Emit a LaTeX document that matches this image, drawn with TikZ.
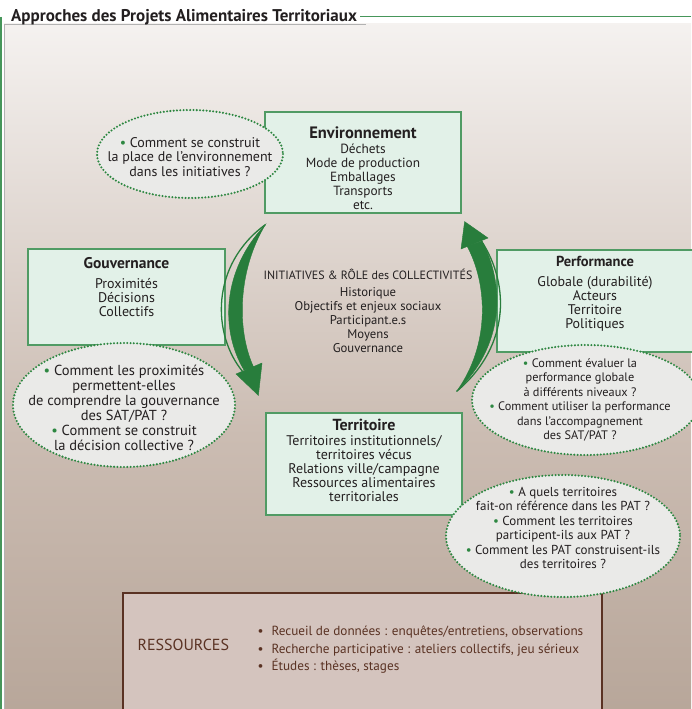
\documentclass[tikz,border=0pt]{standalone}
\usepackage{fontspec}
\setmainfont{PT Sans}
\usetikzlibrary{calc,positioning}

\definecolor{framegreen}{RGB}{70,150,90}
\definecolor{boxgreen}{RGB}{80,155,100}
\definecolor{boxfill}{RGB}{226,241,232}
\definecolor{dotgreen}{RGB}{45,135,65}
\definecolor{qfill}{RGB}{234,234,232}
\definecolor{arrowgreen}{RGB}{40,125,60}
\definecolor{txtgray}{RGB}{35,31,32}
\definecolor{resfill}{RGB}{212,196,190}
\definecolor{resbrown}{RGB}{90,50,35}
\definecolor{bgmid}{RGB}{203,188,178}
\definecolor{bgbot}{RGB}{160,140,124}

\pgfdeclareverticalshading{bgshade}{100bp}{color(0bp)=(bgbot); color(45bp)=(bgmid); color(78bp)=(white!88!bgmid); color(88bp)=(white); color(100bp)=(white)}

\newcommand{\qb}{\textcolor{dotgreen}{\textbullet}\ }
\newcommand{\rb}{\makebox[14pt][l]{\textbullet}}
\newcommand{\fs}[2]{\fontsize{#1}{#2}\selectfont}

\tikzset{
  box/.style={draw=boxgreen, fill=boxfill, line width=1.2pt, inner sep=0pt},
  boxtext/.style={align=center, text=txtgray, font=\fs{14}{14}},
  question/.style={draw=dotgreen, fill=qfill, line width=2.3pt,
    dash pattern=on 0pt off 3.3pt, line cap=round},
  qtext/.style={align=center, text=txtgray, font=\fs{13}{14.5}},
  band/.style={fill=arrowgreen, draw=arrowgreen, line width=0.4pt},
  thinband/.style={draw=arrowgreen, line width=1.3pt},
}

\begin{document}
\begin{tikzpicture}[x=1pt,y=-1pt]
\useasboundingbox (0,0) rectangle (691,709);
% background and frame
\fill[shading=bgshade] (4,24) rectangle (691,709);
\draw[gray!60, line width=0.8pt] (4,709) -- (4,24) -- (366,24);
\draw[framegreen, line width=1.4pt] (1,17) -- (1,709);
\node[anchor=west, inner sep=0pt, text=txtgray, font=\fs{17}{19}\bfseries] (title) at (11,17) {Approches des Projets Alimentaires Territoriaux};
\coordinate (rend) at (691,17);
\draw[framegreen, line width=1pt] ($(title.east)+(3,0)$) -- (title.east -| rend);

% the four themes
\node[box, minimum width=196pt, minimum height=101pt] (env) at (363,162.5) {};
\node[boxtext, font=\fs{13.3}{14}] (envtxt) at (363,168) {{\fs{16.5}{16}\bfseries Environnement}\\[1pt]Déchets\\Mode de production\\Emballages\\Transports\\etc.};
\node[box, minimum width=197pt, minimum height=96pt] (gouv) at (126.5,297) {};
\node[boxtext] (gouvtxt) at (126.5,287) {{\fs{15.5}{16}\bfseries Gouvernance}\\[6pt]Proximités\\Décisions\\Collectifs};
\node[box, minimum width=200pt, minimum height=102pt] (perf) at (597,301) {};
\node[boxtext] (perftxt) at (595,294) {{\fs{14.5}{16}\bfseries Performance}\\[6pt]Globale (durabilité)\\Acteurs\\Territoire\\Politiques};
\node[box, minimum width=196pt, minimum height=102pt] (terr) at (364,464) {};
\node[boxtext] (terrtxt) at (364,460) {{\fs{16}{16}\bfseries Territoire}\\[1pt]Territoires institutionnels/\\territoires vécus\\Relations ville/campagne\\Ressources alimentaires\\territoriales};

% centre
\node[boxtext, font=\fs{12.7}{14}] (centre) at (368,311) {{\fs{12}{14}INITIATIVES \& RÔLE des COLLECTIVITÉS}\\[3pt]Historique\\Objectifs et enjeux sociaux\\Participant.e.s\\Moyens\\Gouvernance};

% left arrow, env to terr
\coordinate (ls) at ($(env.south west)+(1,11)$);
\coordinate (lt) at ($(terr.north west)+(-7,-17)$);
\draw[thinband] (ls) .. controls (210,265) and (212,335) .. (243,372);
\fill[band] (ls) .. controls (222,270) and (220,330) .. (244,370)
  -- (254,368) .. controls (236,330) and (238,270) .. (ls) -- cycle;
\fill[band] (236,374) -- (lt) -- (262,363) -- cycle;

% right arrow, terr to env
\coordinate (rs) at ($(terr.north east)+(-6,-21)$);
\coordinate (rt) at ($(env.south east)+(3,8)$);
\draw[thinband] (rs) .. controls (512,345) and (510,280) .. (478,236);
\fill[band] (rs) .. controls (490,345) and (488,285) .. (467,246)
  -- (482,241) .. controls (505,285) and (505,345) .. (rs) -- cycle;
\fill[band] (461,249) -- (rt) -- (488,238) -- cycle;

% resources
\node[draw=resbrown, fill=resfill, line width=2.2pt, minimum width=479pt, minimum height=124pt, inner sep=0pt] (res) at (362.5,655) {};
\node[anchor=west, text=resbrown, font=\fs{16}{18}] (restitle) at (134,645) {RESSOURCES};
\node[anchor=west, align=left, text=resbrown, font=\fs{13.2}{17.5}] (reslist) at (254,650) {\rb Recueil de données : enquêtes/entretiens, observations\\\rb Recherche participative : ateliers collectifs, jeu sérieux\\\rb Études : thèses, stages};

% questions
\draw[question] (190,154) ellipse (93 and 44);
\node[qtext, font=\fs{14}{14.5}] (qenv) at (190,157) {\qb Comment se construit\\la place de l’environnement\\dans les initiatives ?};
\draw[question] (124,405) ellipse (111 and 62);
\node[qtext, font=\fs{14.5}{15}] (qgouv) at (124,408) {\qb Comment les proximités\\permettent-elles\\de comprendre la gouvernance\\des SAT/PAT ?\\\qb Comment se construit\\la décision collective ?};
\draw[question] (586,400) ellipse (114 and 55);
\node[qtext, font=\fs{12.3}{14.5}] (qperf) at (580,400) {\qb Comment évaluer la\\performance globale\\à différents niveaux ?\\\qb Comment utiliser la performance\\dans l’accompagnement\\des SAT/PAT ?};
\draw[question] (563,536) ellipse (117 and 61);
\node[qtext] (qterr) at (563,528) {\qb A quels territoires\\fait-on référence dans les PAT ?\\\qb Comment les territoires\\participent-ils aux PAT ?\\\qb Comment les PAT construisent-ils\\des territoires ?};
\end{tikzpicture}
\end{document}
